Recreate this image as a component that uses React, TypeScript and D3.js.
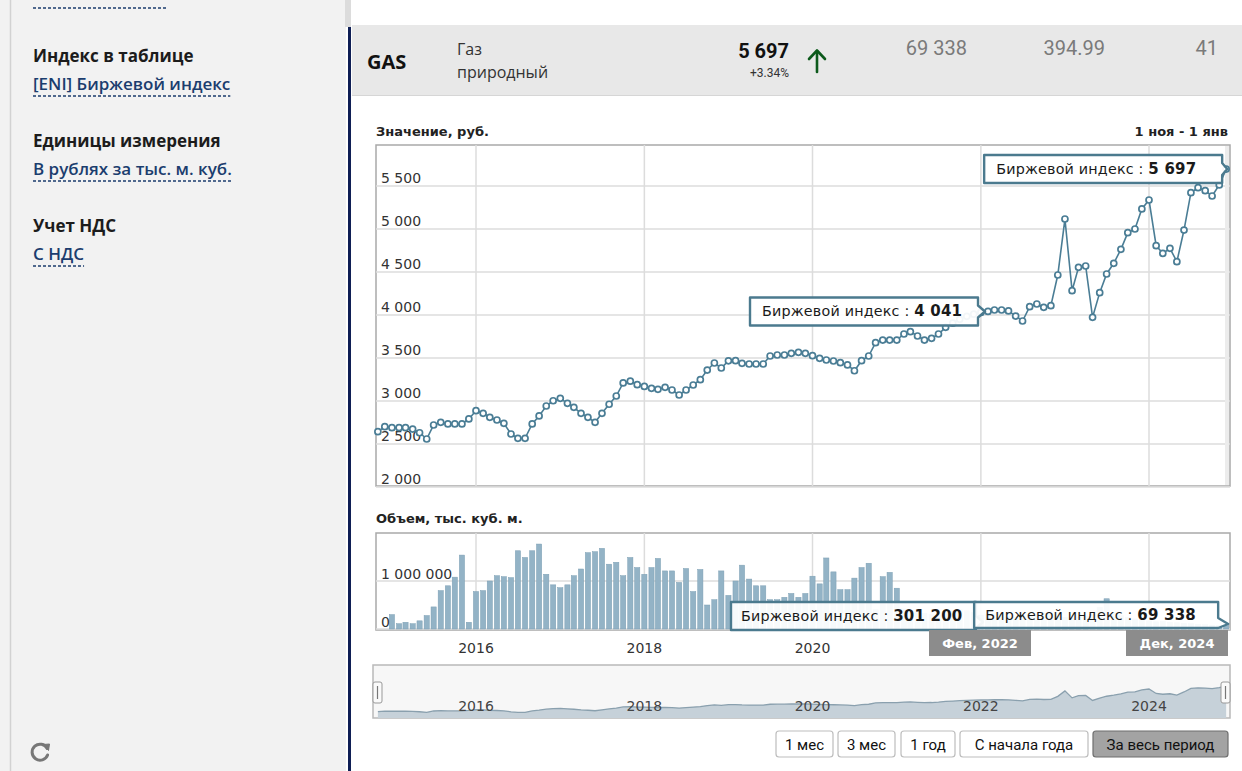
import React, { useLayoutEffect, useRef, useState } from 'react';
import * as d3 from 'd3';

// ---------- DATA ----------
const priceStart = new Date(2014, 10, 1); // Nov 2014, monthly
const priceValues = [
  2643, 2701, 2690, 2690, 2690, 2674, 2631, 2558, 2721, 2752, 2733, 2733, 2733, 2791,
  2887, 2857, 2810, 2779, 2740, 2616, 2566, 2566, 2733, 2826, 2942, 3003,
  3031, 2973, 2927, 2857, 2810, 2752, 2857, 2962, 3058, 3210, 3230, 3190,
  3170, 3147, 3136, 3159, 3128, 3070, 3128, 3186, 3248, 3360, 3442, 3384,
  3467, 3469, 3438, 3430, 3430, 3430, 3523, 3535, 3535, 3554, 3566, 3554,
  3527, 3496, 3477, 3465, 3446, 3419, 3352, 3469, 3523, 3678, 3709, 3709,
  3709, 3779, 3806, 3756, 3709, 3729, 3779, 3857, 3905, 3950, 3985, 4010,
  4030, 4041, 4058, 4058, 4047, 3988, 3930, 4097, 4128, 4089, 4109, 4465,
  5116, 4283, 4554, 4570, 3973, 4260, 4477, 4601, 4764, 4957, 5000, 5233,
  5337, 4806, 4717, 4775, 4620, 4988, 5422, 5480, 5446, 5384, 5513, 5697,
];
const volumeStart = new Date(2015, 0, 1); // Jan 2015, monthly
const volumeValues = [
  300000, 110000, 140000, 110000, 170000, 280000, 460000, 800000, 900000, 1080000, 1540000, 140000,
  780000, 800000, 1000000, 1110000, 1090000, 1070000, 1630000, 1490000, 1630000, 1770000, 1140000, 920000,
  860000, 920000, 1110000, 1250000, 1590000, 1610000, 1680000, 1350000, 1390000, 1110000, 1490000, 1280000,
  1140000, 1280000, 1470000, 1210000, 1210000, 970000, 1260000, 780000, 1240000, 500000, 610000, 1210000,
  700000, 1000000, 1330000, 1040000, 900000, 900000, 610000, 610000, 660000, 740000, 660000, 740000,
  1100000, 940000, 1480000, 1190000, 820000, 820000, 1060000, 1280000, 1370000, 400000, 1090000, 1180000,
  850000, 420000, 380000, 350000, 330000, 300000, 280000, 310000, 360000, 400000, 380000, 340000,
  290000, 301200, 330000, 300000, 270000, 250000, 260000, 280000, 310000, 330000, 300000, 270000,
  240000, 220000, 250000, 270000, 300000, 450000, 630000, 350000, 280000, 240000, 210000, 190000,
  170000, 150000, 160000, 140000, 130000, 120000, 110000, 100000, 90000, 80000, 75000, 69338,
];
const yearTicks = [2016, 2018, 2020, 2022, 2024];
const priceTicks = [2000, 2500, 3000, 3500, 4000, 4500, 5000, 5500];
const volumeTicks = [0, 1000000];
const monthNames = ['Янв', 'Фев', 'Мар', 'Апр', 'Май', 'Июн', 'Июл', 'Авг', 'Сен', 'Окт', 'Ноя', 'Дек'];
const rangeButtons = ['1 мес', '3 мес', '1 год', 'С начала года', 'За весь период'];
const sidebarItems = [
  { label: 'Индекс в таблице', value: '[ENI] Биржевой индекс' },
  { label: 'Единицы измерения', value: 'В рублях за тыс. м. куб.' },
  { label: 'Учет НДС', value: 'С НДС' },
];
const ticker = 'GAS';
const commodity = ['Газ', 'природный'];
const headerExtra = ['394.99', '41'];
const seriesName = 'Биржевой индекс';
const hoverPriceIndex = 87; // Feb 2022
const hoverVolumeIndex = 85; // Feb 2022 (volume series starts Jan 2015)

// ---------- LAYOUT / STYLE ----------
const W = 1242;
const H = 771;
const chartFont = '"DejaVu Sans", Verdana, sans-serif';
const uiFont = '"Open Sans", "Noto Sans", sans-serif';
const narrowFont = '"Liberation Sans Narrow", "Roboto", sans-serif';
const lineColor = '#4a7d95';
const barColor = '#93b3c6';
const gridColor = '#dcdcdc';
const frameColor = '#a9a9a9';
const buttonLayout = [
  { x: 776, w: 57 },
  { x: 838, w: 57 },
  { x: 901, w: 54 },
  { x: 960, w: 128 },
  { x: 1093, w: 135 },
];

const fmt = (v: number) => d3.format(',')(v).replace(/,/g, ' ');

function Tooltip({ tipX, tipY, right, left, top, bottom, value, textX }: any) {
  const mid = tipY;
  const d = `M${left},${top} H${right} V${Math.max(top, mid - 6)} L${tipX},${mid} L${right},${Math.min(bottom, mid + 6)} V${bottom} H${left} Z`;
  return (
    <g>
      <path d={d} fill="#ffffff" fillOpacity={0.93} stroke="#4b7a8e" strokeWidth={2.4} strokeLinejoin="round" />
      <text x={textX} y={(top + bottom) / 2 + 5} fontFamily={chartFont} fontSize={14.3} fill="#1a1a1a" letterSpacing={0.2}>
        {seriesName} : <tspan fontWeight="bold" fontSize={15}>{value}</tspan>
      </text>
    </g>
  );
}

function DashedLink({ x, y, text }: any) {
  const ref = useRef<SVGTextElement>(null);
  const [w, setW] = useState(text.length * 9.5);
  useLayoutEffect(() => {
    if (ref.current) setW(ref.current.getComputedTextLength());
  }, [text]);
  return (
    <g>
      <text ref={ref} x={x} y={y} fontFamily={uiFont} fontSize={17} fontWeight={600} fill="#1b3d6e">{text}</text>
      <line x1={x} y1={y + 6} x2={x + w} y2={y + 6} stroke="#1b3d6e" strokeWidth={1.3} strokeDasharray="3,2" />
    </g>
  );
}

export default function App() {
  const priceData = priceValues.map((v, i) => ({ date: d3.timeMonth.offset(priceStart, i), v }));
  const volumeData = volumeValues.map((v, i) => ({ date: d3.timeMonth.offset(volumeStart, i), v }));

  const x = d3.scaleTime().domain([new Date(2016, 0, 1), new Date(2024, 0, 1)]).range([476, 1149]);
  const yMain = d3.scaleLinear().domain([2000, 5500]).range([487, 186]);
  const yVol = d3.scaleLinear().domain([0, 1000000]).range([629, 581]);
  const yNav = d3.scaleLinear().domain([1885, 8200]).range([718, 665]);

  const main = { l: 376, r: 1230, t: 145, b: 486 };
  const vol = { l: 376, r: 1230, t: 533, b: 630 };
  const nav = { l: 373, r: 1230, t: 665, b: 718 };

  const line = d3.line<any>().x((d) => x(d.date)).y((d) => yMain(d.v));
  const navArea = d3.area<any>().x((d) => x(d.date)).y0(nav.b).y1((d) => yNav(d.v));
  const navLine = d3.line<any>().x((d) => x(d.date)).y((d) => yNav(d.v));

  const last = priceData[priceData.length - 1];
  const prev = priceData[priceData.length - 2];
  const change = ((last.v - prev.v) / prev.v) * 100;
  const hp = priceData[hoverPriceIndex];
  const hv = volumeData[hoverVolumeIndex];
  const lv = volumeData[volumeData.length - 1];

  const hpX = x(hp.date);
  const hpY = yMain(hp.v);
  const lX = x(last.date);
  const lY = yMain(last.v);
  const hvX = x(hv.date);
  const lvX = x(lv.date);

  const dateLabel = (dt: Date) => `${monthNames[dt.getMonth()]}, ${dt.getFullYear()}`;
  const dateBoxes = [hv, lv].map((d) => ({ cx: Math.min(x(d.date) - 8, 1177), label: dateLabel(d.date) }));
  const volYearLabels = yearTicks.filter((yr) => {
    const gx = x(new Date(yr, 0, 1));
    return !dateBoxes.some((b) => Math.abs(b.cx - gx) < 75);
  });

  return (
    <svg width={W} height={H} style={{ position: 'absolute', left: 0, top: 0, display: 'block' }}>
      <rect x={0} y={0} width={W} height={H} fill="#ffffff" />

      {/* Sidebar */}
      <rect x={0} y={0} width={346} height={H} fill="#f2f2f2" />
      <line x1={10.5} y1={0} x2={10.5} y2={H} stroke="#d2d2d2" strokeWidth={1.5} />
      <line x1={33} y1={8} x2={168} y2={8} stroke="#1b3d6e" strokeWidth={1.3} strokeDasharray="3,2" />
      {sidebarItems.map((it, i) => {
        const by = 62 + i * 85;
        return (
          <g key={i}>
            <text x={33} y={by} fontFamily={uiFont} fontSize={17} fontWeight={700} fill="#1c1c1c">{it.label}</text>
            <DashedLink x={33} y={by + 28} text={it.value} />
          </g>
        );
      })}
      <g transform="translate(40,752)">
        <path d="M7.2,-3.5 A8,8 0 1,0 7.6,3" fill="none" stroke="#777" strokeWidth={3} strokeLinecap="round" />
        <path d="M3,-7.5 L9.5,-8 L8.5,-1.5 Z" fill="#777" stroke="#777" strokeWidth={1} strokeLinejoin="round" />
      </g>
      <rect x={345} y={0} width={6} height={27} fill="#dcdcdc" />
      <rect x={348} y={27} width={3} height={H - 27} fill="#0f1f55" />

      {/* Header row */}
      <rect x={352} y={25} width={W - 352} height={70} fill="#e8e8e8" />
      <line x1={352} y1={95.5} x2={W} y2={95.5} stroke="#d6d6d6" />
      <text x={367} y={69} fontFamily={uiFont} fontSize={20} fontWeight={700} fill="#111">{ticker}</text>
      <text x={457} y={55} fontFamily={uiFont} fontSize={16} fill="#333">{commodity[0]}</text>
      <text x={457} y={78} fontFamily={uiFont} fontSize={16} fill="#333">{commodity[1]}</text>
      <text x={789} y={58} textAnchor="end" fontFamily={narrowFont} fontSize={20} fontWeight={700} fill="#111">{fmt(last.v)}</text>
      <text x={789} y={77} textAnchor="end" fontFamily={narrowFont} fontSize={12} fill="#333">{`+${change.toFixed(2)}%`}</text>
      <g stroke="#0d5a1c" strokeWidth={2.6} fill="none" strokeLinecap="round" strokeLinejoin="round">
        <line x1={817} y1={72} x2={817} y2={51} />
        <polyline points="809,59 817,50.5 825,59" />
      </g>
      <text x={967} y={55} textAnchor="end" fontFamily={narrowFont} fontSize={20} fill="#7a7a7a">{fmt(lv.v)}</text>
      <text x={1105} y={55} textAnchor="end" fontFamily={narrowFont} fontSize={20} fill="#7a7a7a">{headerExtra[0]}</text>
      <text x={1218} y={55} textAnchor="end" fontFamily={narrowFont} fontSize={20} fill="#7a7a7a">{headerExtra[1]}</text>

      {/* Main chart */}
      <text x={376} y={136} fontFamily={chartFont} fontSize={13} fontWeight="bold" fill="#222">Значение, руб.</text>
      <text x={1228} y={136} textAnchor="end" fontFamily={chartFont} fontSize={13} fontWeight="bold" fill="#222">1 ноя - 1 янв</text>
      <rect x={main.l} y={main.t} width={main.r - main.l} height={main.b - main.t} fill="#fff" stroke={frameColor} strokeWidth={1.5} />
      {priceTicks.map((t) => (
        <line key={t} x1={main.l} x2={main.r} y1={yMain(t)} y2={yMain(t)} stroke={gridColor} strokeWidth={1.5} />
      ))}
      {yearTicks.map((yr) => {
        const gx = x(new Date(yr, 0, 1));
        return <line key={yr} x1={gx} x2={gx} y1={main.t} y2={main.b} stroke={gridColor} strokeWidth={1.5} />;
      })}
      <rect x={main.r - 5} y={main.t + 1} width={4} height={main.b - main.t - 2} fill="#ececec" />
      {priceTicks.map((t) => (
        <text key={t} x={381} y={yMain(t) - 3} fontFamily={chartFont} fontSize={14} fill="#333">{fmt(t)}</text>
      ))}
      <path d={line(priceData) || ''} fill="none" stroke={lineColor} strokeWidth={1.6} />
      {priceData.map((d, i) => (
        <circle key={i} cx={x(d.date)} cy={yMain(d.v)} r={3} fill="#fff" stroke={lineColor} strokeWidth={1.7} />
      ))}
      <Tooltip tipX={hpX - 3} tipY={hpY} right={hpX - 10} left={hpX - 238} top={hpY - 14} bottom={hpY + 14} textX={hpX - 226} value={fmt(hp.v)} />
      <Tooltip tipX={lX + 1} tipY={lY} right={lX - 4} left={lX - 242} top={lY - 14} bottom={lY + 14} textX={lX - 230} value={fmt(last.v)} />

      {/* Volume chart */}
      <text x={376} y={523} fontFamily={chartFont} fontSize={13} fontWeight="bold" fill="#222">Объем, тыс. куб. м.</text>
      <rect x={vol.l} y={vol.t} width={vol.r - vol.l} height={vol.b - vol.t} fill="#fff" stroke={frameColor} strokeWidth={1.5} />
      {volumeTicks.map((t) => (
        <line key={t} x1={vol.l} x2={vol.r} y1={yVol(t)} y2={yVol(t)} stroke={gridColor} strokeWidth={1.5} />
      ))}
      {yearTicks.map((yr) => {
        const gx = x(new Date(yr, 0, 1));
        return <line key={yr} x1={gx} x2={gx} y1={vol.t} y2={vol.b} stroke={gridColor} strokeWidth={1.5} />;
      })}
      {volumeData.map((d, i) => {
        const bx = x(d.date);
        const by = yVol(d.v);
        return <rect key={i} x={bx - 2.6} y={by} width={5.2} height={yVol(0) - by} fill={barColor} stroke="#7d9fb4" strokeWidth={0.5} />;
      })}
      {volumeTicks.map((t) => (
        <text key={t} x={381} y={yVol(t) - 2} fontFamily={chartFont} fontSize={14} fill="#333">{fmt(t)}</text>
      ))}
      {volYearLabels.map((yr) => (
        <text key={yr} x={x(new Date(yr, 0, 1))} y={653} textAnchor="middle" fontFamily={chartFont} fontSize={14} fill="#333">{yr}</text>
      ))}
      <Tooltip tipX={hvX - 5} tipY={622} right={hvX - 12} left={hvX - 257} top={602} bottom={630} textX={hvX - 247} value={fmt(hv.v)} />
      <Tooltip tipX={lvX + 2} tipY={624} right={lvX - 8} left={lvX - 252} top={602} bottom={628} textX={lvX - 241} value={fmt(lv.v)} />
      {dateBoxes.map((b, i) => (
        <g key={i}>
          <rect x={b.cx - 51} y={630} width={102} height={26} fill="#8c8c8c" />
          <text x={b.cx} y={648} textAnchor="middle" fontFamily={chartFont} fontSize={13} fontWeight="bold" fill="#fff">{b.label}</text>
        </g>
      ))}

      {/* Navigator */}
      <rect x={nav.l} y={nav.t} width={nav.r - nav.l} height={nav.b - nav.t} fill="#f7f7f7" stroke="#b9b9b9" strokeWidth={1.5} />
      <path d={navArea(priceData) || ''} fill="#c6d1d9" />
      <path d={navLine(priceData) || ''} fill="none" stroke="#8aa0ae" strokeWidth={1.3} />
      {yearTicks.map((yr) => (
        <text key={yr} x={x(new Date(yr, 0, 1))} y={711} textAnchor="middle" fontFamily={chartFont} fontSize={14} fill="#444">{yr}</text>
      ))}
      {[nav.l, nav.r - 9].map((hx, i) => (
        <g key={i}>
          <rect x={hx} y={682} width={9} height={21} rx={2} fill="#fafafa" stroke="#999" />
          <line x1={hx + 4.5} x2={hx + 4.5} y1={686} y2={699} stroke="#777" strokeWidth={1.2} />
        </g>
      ))}

      {/* Range buttons */}
      {rangeButtons.map((b, i) => {
        const L = buttonLayout[i];
        const active = i === rangeButtons.length - 1;
        return (
          <g key={b}>
            <rect x={L.x} y={731} width={L.w} height={26} rx={3} fill={active ? '#a3a3a3' : '#ffffff'} stroke={active ? '#6f6f6f' : '#bdbdbd'} strokeWidth={1.2} />
            <text x={L.x + L.w / 2} y={749.5} textAnchor="middle" fontFamily={narrowFont} fontSize={15} fill="#111">{b}</text>
          </g>
        );
      })}
    </svg>
  );
}
